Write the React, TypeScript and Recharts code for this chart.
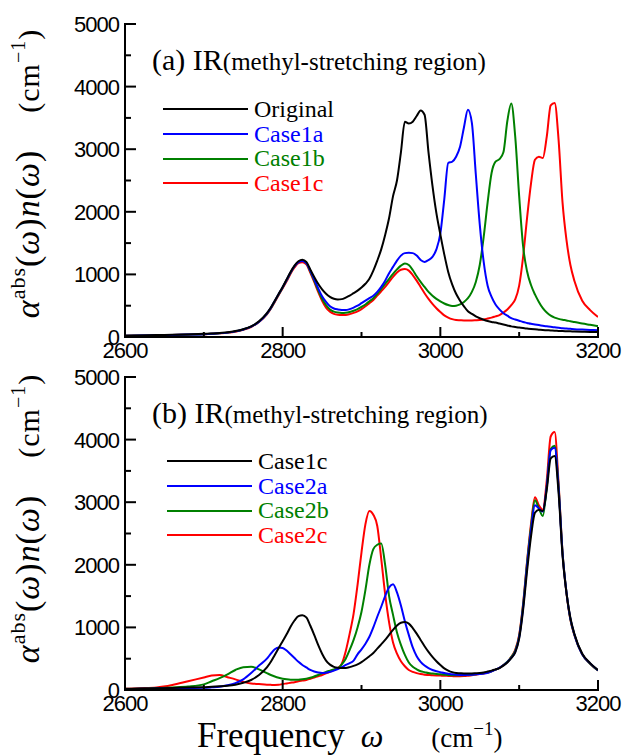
import React from 'react'
import { LineChart, Line, XAxis, YAxis, Legend } from 'recharts'

// frequency grid (cm^-1)
const freq = [
  2600, 2620, 2640, 2660, 2680, 2700, 2710, 2720, 2730, 2740, 2750, 2760, 2770,
  2780, 2785, 2790, 2795, 2800, 2805, 2810, 2815, 2820, 2825, 2830, 2835, 2840, 2845, 2850, 2855, 2860, 2865, 2870, 2875,
  2880, 2885, 2890, 2895, 2900, 2905, 2910, 2915, 2920, 2925, 2930, 2935, 2940, 2945, 2950, 2955, 2960, 2965, 2970, 2975,
  2980, 2985, 2990, 2995, 3000, 3005, 3010, 3015, 3020, 3025, 3030, 3035, 3040, 3045, 3050, 3055, 3060, 3065, 3070, 3075,
  3080, 3085, 3090, 3095, 3100, 3105, 3110, 3115, 3120, 3125, 3130, 3135, 3140, 3145, 3150, 3155, 3160, 3165, 3170,
  3180, 3190, 3200,
]

const original = [
  20, 25, 30, 35, 40, 50, 55, 65, 75, 95, 125, 170, 250,
  380, 470, 580, 690, 800, 920, 1040, 1140, 1210, 1235, 1200, 1080, 960, 850, 760, 690, 640, 610, 600, 605,
  630, 660, 700, 740, 790, 850, 930, 1060, 1220, 1400, 1630, 1900, 2250, 2500, 2950, 3440, 3410, 3440, 3530, 3620,
  3550, 2950, 2420, 1980, 1640, 1320, 1040, 840, 690, 580, 490, 410, 370, 330, 300, 275, 255, 240, 230, 215,
  200, 185, 170, 160, 150, 142, 135, 128, 122, 117, 112, 108, 104, 100, 97, 94, 92, 90, 88,
  84, 80, 78,
]

const case1a = [
  18, 22, 27, 32, 38, 45, 52, 60, 70, 90, 120, 165, 245,
  375, 465, 575, 685, 795, 910, 1030, 1130, 1195, 1215, 1180, 1060, 920, 780, 650, 560, 490, 455, 440, 432,
  430, 445, 470, 500, 540, 580, 620, 660, 720, 800, 900, 1020, 1120, 1220, 1300, 1340, 1345, 1340, 1300, 1230,
  1200, 1230, 1280, 1400, 1650, 2200, 2780, 2800, 2880, 3040, 3350, 3630, 3420, 2600, 1800, 1200, 820, 640, 520, 440,
  380, 340, 300, 280, 260, 240, 225, 210, 200, 190, 180, 170, 162, 155, 148, 140, 135, 130, 125,
  118, 112, 108,
]

const case1b = [
  18, 22, 27, 32, 38, 45, 52, 60, 70, 90, 120, 165, 245,
  370, 460, 570, 680, 790, 905, 1025, 1130, 1200, 1220, 1180, 1050, 900, 750, 610, 510, 440, 405, 390, 385,
  388, 400, 420, 445, 480, 520, 570, 620, 690, 770, 850, 930, 1010, 1080, 1140, 1175, 1150, 1070, 970, 880,
  800, 720, 660, 610, 570, 535, 510, 495, 500, 520, 560, 620, 720, 880, 1150, 1600, 2150, 2620, 2800, 2840,
  2950, 3450, 3730, 3200, 2250, 1450, 1050, 830, 680, 560, 460, 390, 340, 310, 290, 275, 265, 250, 240,
  215, 195, 175,
]

const case1c = [
  18, 22, 27, 32, 38, 45, 50, 58, 68, 85, 115, 160, 240,
  360, 450, 560, 670, 780, 890, 1010, 1110, 1180, 1195, 1160, 1030, 880, 720, 580, 470, 405, 370, 355, 350,
  352, 365, 385, 410, 445, 490, 540, 590, 660, 730, 800, 880, 960, 1030, 1075, 1085, 1060, 990, 900, 800,
  700, 610, 530, 460, 400, 345, 310, 285, 272, 268, 265, 265, 265, 268, 272, 280, 295, 310, 330, 350,
  390, 440, 510, 600, 820, 1280, 1900, 2450, 2830, 2880, 2860, 3200, 3700, 3740, 3150, 2150, 1550, 1150, 900,
  580, 430, 320,
]

const case2a = [
  15, 18, 22, 28, 32, 35, 42, 52, 75, 110, 170, 270, 390,
  500, 580, 650, 680, 670, 630, 570, 510, 450, 400, 360, 320, 295, 280, 272, 275, 290, 310, 335, 365,
  400, 430, 470, 570, 650, 740, 850, 1000, 1170, 1330, 1500, 1640, 1690, 1560, 1350, 1100, 880, 680, 540, 450,
  390, 350, 320, 300, 285, 270, 260, 250, 245, 240, 240, 242, 245, 250, 255, 262, 275, 300, 325, 355,
  395, 445, 515, 610, 840, 1320, 1980, 2550, 2950, 2900, 2850, 3250, 3830, 3870, 3220, 2180, 1560, 1140, 890,
  570, 425, 315,
]

const case2b = [
  15, 20, 28, 40, 55, 90, 140, 190, 250, 320, 365, 370, 330,
  270, 240, 215, 195, 180, 170, 165, 165, 165, 170, 180, 195, 215, 240, 265, 290, 310, 330, 345, 410,
  500, 640, 800, 1000, 1250, 1600, 2000, 2250, 2320, 2340, 2000, 1500, 1200, 920, 720, 560, 440, 370, 330, 300,
  285, 270, 262, 255, 250, 245, 240, 237, 235, 235, 237, 240, 245, 250, 258, 268, 280, 300, 325, 355,
  400, 450, 525, 630, 860, 1360, 2030, 2600, 3030, 2900, 2780, 3250, 3850, 3900, 3250, 2200, 1560, 1130, 885,
  570, 420, 312,
]

const case2c = [
  20, 28, 40, 80, 140, 200, 230, 240, 205, 170, 130, 105, 95,
  85, 82, 80, 82, 95, 105, 115, 125, 140, 150, 160, 180, 200, 220, 240, 265, 290, 320, 350, 420,
  620, 900, 1220, 1680, 2200, 2650, 2860, 2800, 2620, 2100, 1530, 1080, 760, 580, 460, 380, 320, 290, 270, 255,
  245, 240, 235, 232, 230, 228, 225, 222, 220, 220, 222, 228, 235, 245, 255, 265, 280, 300, 325, 355,
  400, 450, 530, 640, 880, 1380, 2050, 2650, 3080, 2950, 2880, 3350, 4050, 4120, 3300, 2200, 1550, 1120, 880,
  570, 420, 310,
]

const xTicks = [2600, 2700, 2800, 2900, 3000, 3100, 3200]
const yTicks = [0, 500, 1000, 1500, 2000, 2500, 3000, 3500, 4000, 4500, 5000]

const seriesA = [
  { key: 'original', name: 'Original', color: '#000000' },
  { key: 'case1a', name: 'Case1a', color: '#0000ff' },
  { key: 'case1b', name: 'Case1b', color: '#008000' },
  { key: 'case1c', name: 'Case1c', color: '#ff0000' },
]

const seriesB = [
  { key: 'case1c', name: 'Case1c', color: '#000000' },
  { key: 'case2a', name: 'Case2a', color: '#0000ff' },
  { key: 'case2b', name: 'Case2b', color: '#008000' },
  { key: 'case2c', name: 'Case2c', color: '#ff0000' },
]

const rowsA = freq.map((f, i) => ({ f, original: original[i], case1a: case1a[i], case1b: case1b[i], case1c: case1c[i] }))
const rowsB = freq.map((f, i) => ({ f, case1c: case1c[i], case2a: case2a[i], case2b: case2b[i], case2c: case2c[i] }))

const SERIF = "'Liberation Serif', 'DejaVu Serif', serif"
const SANS = "'Liberation Sans', Arial, sans-serif"
const frame = { stroke: '#000', strokeWidth: 2, strokeLinecap: 'square' as const }

// ticks point inward; majors get labels
const BottomTick = (p: any) => {
  const v = p.payload.value
  const major = v % 200 === 0
  return (
    <g>
      <line x1={p.x} y1={p.y} x2={p.x} y2={p.y - (major ? 10 : 5)} stroke="#000" strokeWidth={2} />
      {major && (
        <text x={p.x} y={p.y + 21} textAnchor="middle" fontFamily={SANS} fontSize={22} letterSpacing={-1} fill="#000">
          {v}
        </text>
      )}
    </g>
  )
}

const TopTick = (p: any) => {
  const major = p.payload.value % 200 === 0
  return <line x1={p.x} y1={p.y} x2={p.x} y2={p.y + (major ? 10 : 6)} stroke="#000" strokeWidth={2} />
}

const LeftTick = (p: any) => {
  const v = p.payload.value
  const major = v % 1000 === 0
  return (
    <g>
      <line x1={p.x} y1={p.y} x2={p.x + (major ? 11 : 6)} y2={p.y} stroke="#000" strokeWidth={2} />
      {major && (
        <text x={p.x - 6} y={p.y} dy="0.36em" textAnchor="end" fontFamily={SANS} fontSize={22} letterSpacing={-1} fill="#000">
          {v}
        </text>
      )}
    </g>
  )
}

const RightTick = (p: any) => (
  <line x1={p.x} y1={p.y} x2={p.x - 10} y2={p.y} stroke="#000" strokeWidth={2} />
)

// y-axis title plus the panel title, both hung on the left axis label
const leftLabel = (tag: string, shift: number) => (p: any) => {
  const vb = p.viewBox
  const cx = vb.x + 39
  const cy = vb.y + vb.height / 2 + shift
  return (
    <g>
      <text
        transform={`rotate(-90, ${cx}, ${cy})`}
        x={cx}
        y={cy}
        textAnchor="middle"
        fontFamily={SERIF}
        fontSize={34}
        letterSpacing={1}
        fill="#000"
      >
        <tspan fontStyle="italic">α</tspan>
        <tspan fontSize={22} dy={-14}>abs</tspan>
        <tspan dy={14}>(</tspan>
        <tspan fontStyle="italic">ω</tspan>
        <tspan>)</tspan>
        <tspan fontStyle="italic">n</tspan>
        <tspan>(</tspan>
        <tspan fontStyle="italic">ω</tspan>
        <tspan>)</tspan>
        <tspan dx={37} fontSize={30}>(cm</tspan>
        <tspan fontSize={20} dy={-14}>−1</tspan>
        <tspan fontSize={30} dy={14}>)</tspan>
      </text>
      <text x={vb.x + vb.width + 27} y={vb.y + 46} fontFamily={SERIF} fill="#000">
        <tspan fontSize={30}>({tag}) IR</tspan>
        <tspan fontSize={25}>(methyl-stretching region)</tspan>
      </text>
    </g>
  )
}

const XTitle = (p: any) => {
  const vb = p.viewBox
  return (
    <text x={vb.x + 72} y={vb.y + 57} fontFamily={SERIF} fill="#000">
      <tspan fontSize={35}>Frequency</tspan>
      <tspan dx={16} fontSize={32} fontStyle="italic">ω</tspan>
      <tspan dx={48} fontSize={27}>(cm</tspan>
      <tspan fontSize={19} dy={-12}>−1</tspan>
      <tspan fontSize={27} dy={12}>)</tspan>
    </text>
  )
}

type Series = { key: string; name: string; color: string }

const makeLegend = (series: Series[]) => () => (
  <div style={{ fontFamily: SERIF }}>
    {series.map((s) => (
      <div key={s.key} style={{ display: 'flex', alignItems: 'center', height: 24.7 }}>
        <div style={{ width: 85, height: 2, background: s.color }} />
        <span style={{ marginLeft: 6, fontFamily: SERIF, fontSize: 24, lineHeight: '24.7px', color: s.color }}>{s.name}</span>
      </div>
    ))}
  </div>
)

type PanelProps = {
  rows: any[]
  series: Series[]
  tag: string
  top: number
  height: number
  xHeight: number
  titleShift: number
  legendPos: { left: number; top: number }
  xTitle?: boolean
}

const Panel = ({ rows, series, tag, top, height, xHeight, titleShift, legendPos, xTitle }: PanelProps) => (
  <div style={{ position: 'absolute', left: 0, top }}>
    <LineChart width={624} height={height} data={rows} margin={{ top: 24, right: 26, bottom: 0, left: 0 }}>
      <XAxis
        dataKey="f"
        type="number"
        domain={[2600, 3200]}
        allowDataOverflow
        ticks={xTicks}
        interval={0}
        height={xHeight}
        tickSize={0}
        tickMargin={0}
        tickLine={false}
        axisLine={frame}
        tick={<BottomTick />}
        label={xTitle ? { content: XTitle } : undefined}
      />
      <XAxis
        xAxisId="t"
        orientation="top"
        dataKey="f"
        type="number"
        domain={[2600, 3200]}
        allowDataOverflow
        ticks={xTicks}
        interval={0}
        height={0}
        tickSize={0}
        tickMargin={0}
        tickLine={false}
        axisLine={frame}
        tick={<TopTick />}
      />
      <YAxis
        type="number"
        domain={[0, 5000]}
        allowDataOverflow
        ticks={yTicks}
        interval={0}
        width={125}
        tickSize={0}
        tickMargin={0}
        tickLine={false}
        axisLine={frame}
        tick={<LeftTick />}
        label={{ content: leftLabel(tag, titleShift) }}
      />
      <YAxis
        yAxisId="r"
        orientation="right"
        type="number"
        domain={[0, 5000]}
        allowDataOverflow
        ticks={yTicks}
        interval={0}
        width={0}
        tickSize={0}
        tickMargin={0}
        tickLine={false}
        axisLine={frame}
        tick={<RightTick />}
      />
      <Legend
        layout="vertical"
        align="center"
        verticalAlign="middle"
        content={makeLegend(series)}
        wrapperStyle={{ left: legendPos.left, top: legendPos.top, right: 'auto', bottom: 'auto', width: 'auto', height: 'auto' }}
      />
      {[...series].reverse().map((s) => (
        <Line
          key={s.key}
          dataKey={s.key}
          name={s.name}
          type="monotone"
          stroke={s.color}
          strokeWidth={2}
          dot={false}
          activeDot={false}
          isAnimationActive={false}
        />
      ))}
    </LineChart>
  </div>
)

export default function App() {
  return (
    <div style={{ position: 'absolute', left: 0, top: 0, width: 624, height: 756, background: '#fff' }}>
      <Panel rows={rowsA} series={seriesA} tag="a" top={0} height={370} xHeight={33} titleShift={-7} legendPos={{ left: 163, top: 97 }} />
      <Panel rows={rowsB} series={seriesB} tag="b" top={353} height={403} xHeight={66} titleShift={-15} legendPos={{ left: 167, top: 96 }} xTitle />
    </div>
  )
}
